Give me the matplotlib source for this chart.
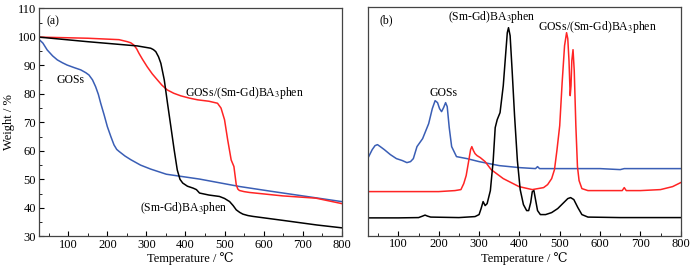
import matplotlib
matplotlib.use("Agg")
import matplotlib.pyplot as plt
from matplotlib.ticker import MultipleLocator

plt.rcParams['font.family'] = ['Liberation Serif', 'DejaVu Serif']
plt.rcParams['mathtext.fontset'] = 'stix'
plt.rcParams['font.size'] = 8.5

# ---- TGA (a) ----
gos_t = [22, 35, 46, 60, 72, 85, 97, 115, 132, 145, 153, 162, 170, 177, 183, 192, 200, 209, 217, 224, 230, 245, 260, 285, 311, 351, 436, 538, 620, 700, 800]
gos_w = [99.5, 97.8, 95.4, 93.3, 91.9, 90.9, 90.1, 89.2, 88.4, 87.4, 86.6, 84.9, 82.5, 79.8, 76.7, 72.5, 68.5, 65.0, 62.1, 60.5, 59.8, 58.2, 56.9, 55.0, 53.6, 51.8, 50.1, 47.5, 45.8, 44.2, 42.2]

comp_t = [25, 150, 230, 251, 260, 268, 275, 281, 290, 302, 315, 328, 340, 353, 370, 388, 410, 431, 460, 482, 491, 500, 508, 517, 524, 530, 534, 538, 550, 564, 649, 734, 800]
comp_w = [99.9, 99.5, 99.0, 98.3, 97.9, 97.1, 95.8, 94.2, 92.1, 89.5, 87.0, 84.9, 83.0, 81.4, 80.2, 79.3, 78.5, 77.9, 77.4, 76.7, 75.0, 70.9, 63.9, 56.8, 54.5, 48.1, 46.6, 46.1, 45.7, 45.4, 44.2, 43.4, 41.5]

cplx_t = [25, 149, 277, 311, 318, 324, 331, 337, 345.7, 354, 362.6, 371, 379, 386, 393, 405, 420, 428, 436, 460, 487, 500, 513, 522, 530, 539, 547, 560, 573, 650, 736, 800]
cplx_w = [99.9, 98.3, 96.8, 96.0, 95.5, 94.8, 93.0, 90.7, 84.9, 76.7, 68.5, 60.4, 53.3, 50.0, 48.7, 47.6, 46.9, 46.4, 45.2, 44.5, 44.0, 43.3, 42.2, 40.8, 39.3, 38.4, 37.8, 37.3, 37.0, 35.6, 34.0, 33.0]

# ---- DTG (b), arbitrary units ----
gos_dt = [25, 35, 42, 48, 55, 65, 80, 95, 110, 121, 130, 137, 146, 160, 175, 184, 191, 197, 202, 207, 212, 217, 221, 226, 232, 244, 270, 300, 350, 400, 440, 445, 450, 500, 600, 650, 660, 800]
gos_d = [78, 86, 90, 91, 89, 86, 81, 77, 75, 73, 74, 77, 89, 97, 112, 127, 135, 133, 127, 124, 128, 133, 129, 108, 89, 79, 77, 74, 70, 68, 67, 69, 67, 67, 67, 66, 67, 67]

comp_dt = [25, 100, 200, 240, 255, 262, 268, 274, 279, 282, 286, 290, 295, 303, 315, 330, 360, 399, 432, 460, 470, 480, 487, 493, 500, 506, 512, 517, 520, 523, 526, 528, 530, 533, 536, 540, 544, 548, 555, 570, 600, 655, 660, 665, 700, 750, 780, 800]
comp_d = [44, 44, 44, 45, 46, 52, 60, 74, 86, 89, 85, 82, 80, 78, 74, 66, 57, 49, 46, 48, 51, 57, 66, 85, 110, 153, 190, 203, 197, 175, 140, 150, 175, 186, 165, 110, 69, 55, 47, 45, 45, 45, 48, 45, 45, 46, 49, 53]

cplx_dt = [25, 100, 150, 160, 166, 172, 180, 250, 290, 300, 305, 310, 315, 320, 328, 335, 340, 345, 352, 360, 366, 370, 373, 377, 382, 388, 395, 402, 410, 418, 423, 428, 432, 436, 440, 445, 452, 465, 480, 495, 510, 520, 527, 535, 545, 555, 570, 650, 800]
cplx_d = [17.7, 17.7, 18, 19.5, 20.5, 19.5, 18.5, 18, 19, 21, 27, 34, 30, 32, 45, 75, 108, 116, 123, 150, 182, 203, 208, 200, 165, 120, 75, 46, 31, 25, 25, 33, 44, 45, 36, 25, 21, 21, 23, 27, 33, 37, 38, 36, 28, 21, 18.5, 18, 18]

blue = '#3a5eb5'
red = '#ff2424'
black = '#000000'

fig = plt.figure(figsize=(6.96, 2.68), dpi=100)
ax1 = fig.add_axes([0.056, 0.118, 0.435, 0.851])
ax2 = fig.add_axes([0.529, 0.121, 0.449, 0.854])

ax1.plot(gos_t, gos_w, color=blue, lw=1.1)
ax1.plot(comp_t, comp_w, color=red, lw=1.1)
ax1.plot(cplx_t, cplx_w, color=black, lw=1.1)
ax1.set_xlim(25, 800)
ax1.set_ylim(30, 110)
ax1.xaxis.set_minor_locator(MultipleLocator(50))
ax1.yaxis.set_major_locator(MultipleLocator(10))
ax1.yaxis.set_minor_locator(MultipleLocator(5))
ax1.set_xticks([100, 200, 300, 400, 500, 600, 700, 800])
ax1.set_xlabel('Temperature / ℃', labelpad=1, fontsize=9)
ax1.set_ylabel('Weight / %', labelpad=2, fontsize=9)
ax1.text(44, 105.5, '(a)', va='center', ha='left')
ax1.text(69, 84.8, 'GOSs', va='center', ha='left')
ax1.text(398, 80.4, 'GOSs/(Sm-Gd)BA$_3$phen', va='center', ha='left')
ax1.text(283, 40, '(Sm-Gd)BA$_3$phen', va='center', ha='left')

ax2.plot(gos_dt, gos_d, color=blue, lw=1.1)
ax2.plot(comp_dt, comp_d, color=red, lw=1.1)
ax2.plot(cplx_dt, cplx_d, color=black, lw=1.1)
ax2.set_xlim(25, 800)
ax2.set_ylim(0, 229)
ax2.xaxis.set_minor_locator(MultipleLocator(50))
ax2.set_xticks([100, 200, 300, 400, 500, 600, 700, 800])
ax2.set_yticks([])
ax2.set_xlabel('Temperature / ℃', labelpad=1, fontsize=9)
ax2.text(52, 215, '(b)', va='center', ha='left')
ax2.text(211, 143, 'GOSs', va='center', ha='center')
ax2.text(332, 219, '(Sm-Gd)BA$_3$phen', va='center', ha='center')
ax2.text(593, 209, 'GOSs/(Sm-Gd)BA$_3$phen', va='center', ha='center')

for ax in (ax1, ax2):
    for s in ax.spines.values():
        s.set_color('#444444')
        s.set_linewidth(0.9)
    ax.tick_params(which='both', direction='in', top=False, right=False, labelsize=9, pad=2)
    ax.tick_params(which='major', length=3.5)
    ax.tick_params(which='minor', length=2)

fig.savefig('out.png', dpi=100)
